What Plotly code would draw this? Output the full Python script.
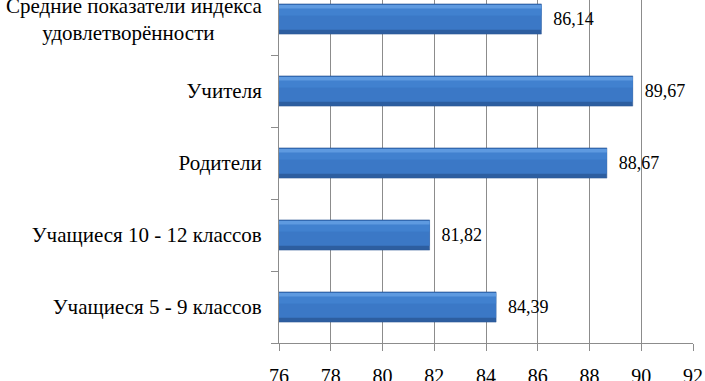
import plotly.graph_objects as go

categories = [
    "Учащиеся 5 - 9 классов",
    "Учащиеся 10 - 12 классов",
    "Родители",
    "Учителя",
    "Средние показатели индекса<br>удовлетворённости" + "\u00a0" * 9,
]
values = [84.39, 81.82, 88.67, 89.67, 86.14]
x_ticks = [76, 78, 80, 82, 84, 86, 88, 90, 92]

FONT = "Liberation Serif, DejaVu Serif, serif"

fig = go.Figure()
# base bar (dark edge) carrying the value labels
fig.add_trace(go.Bar(
    y=categories, x=values, orientation="h",
    width=0.42, offset=-0.21,
    marker=dict(color="#2d5ea0", line=dict(color="#2a5590", width=0.5)),
    texttemplate="\u00a0\u00a0%{x:.2f}", textposition="outside",
    textfont=dict(family=FONT, size=18, color="#000"),
    cliponaxis=False, showlegend=False,
))
# body
fig.add_trace(go.Bar(
    y=categories, x=values, orientation="h",
    width=0.35, offset=-0.15,
    marker=dict(color="#3b78c6", line=dict(width=0)),
    hoverinfo="skip", showlegend=False, cliponaxis=False,
))
# upper lighter part
fig.add_trace(go.Bar(
    y=categories, x=values, orientation="h",
    width=0.13, offset=0.05,
    marker=dict(color="#4181cf", line=dict(width=0)),
    hoverinfo="skip", showlegend=False, cliponaxis=False,
))
# top highlight
fig.add_trace(go.Bar(
    y=categories, x=values, orientation="h",
    width=0.05, offset=0.145,
    marker=dict(color="#5e9ae0", line=dict(width=0)),
    hoverinfo="skip", showlegend=False, cliponaxis=False,
))

fig.update_layout(
    width=705, height=381,
    margin=dict(l=279, r=12, t=0, b=38),
    paper_bgcolor="white", plot_bgcolor="white",
    barmode="overlay",
    separators=", ",
    font=dict(family=FONT, color="#000"),
    xaxis=dict(
        range=[76, 92], tickvals=x_ticks, ticktext=[str(v) for v in x_ticks],
        showgrid=True, gridcolor="#8c8c8c", gridwidth=1,
        showline=True, linecolor="#8c8c8c", linewidth=1,
        ticks="outside", ticklen=7, tickcolor="#8c8c8c",
        tickfont=dict(family=FONT, size=20, color="#000"),
        ticklabelstandoff=8,
        zeroline=False, automargin=False, fixedrange=True,
    ),
    yaxis=dict(
        type="category", categoryorder="array", categoryarray=categories,
        range=[-0.5, 4.5 - 17 / 72],
        tickson="boundaries", ticks="outside", ticklen=7, tickcolor="#8c8c8c",
        showline=True, linecolor="#8c8c8c", linewidth=1,
        showgrid=False, zeroline=False,
        tickfont=dict(family=FONT, size=21, color="#000"),
        ticklabelstandoff=12,
        automargin=False, fixedrange=True,
    ),
)

fig.write_html(
    "out.html",
    config={"displayModeBar": False},
    post_script="document.body.style.margin='0';",
)
